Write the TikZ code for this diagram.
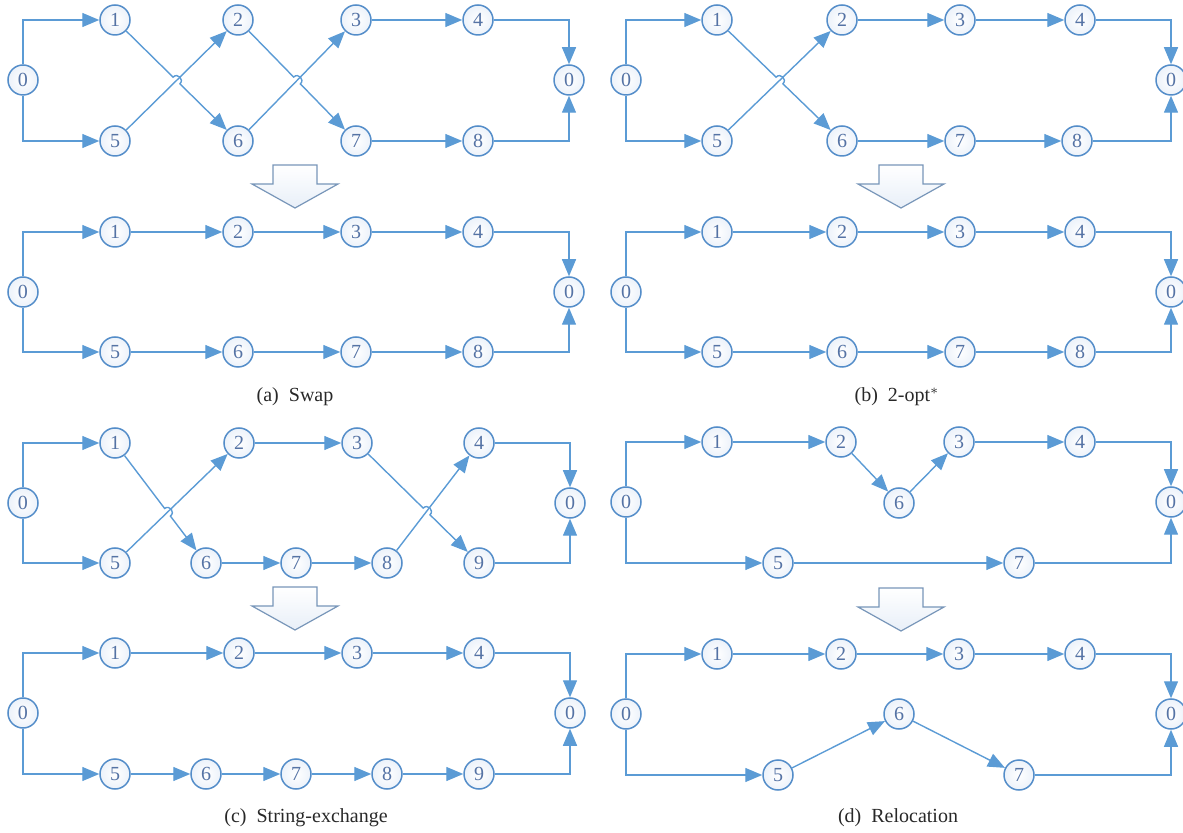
\documentclass[tikz,border=0pt]{standalone}
\usepackage{fontspec}
\setmainfont{Liberation Serif}
\usetikzlibrary{arrows.meta,calc}
\definecolor{lineblue}{RGB}{91,155,213}
\definecolor{nodeblue}{RGB}{84,141,201}
\definecolor{digitblue}{RGB}{85,115,165}
\definecolor{nodefill}{RGB}{236,242,250}
\definecolor{arrowline}{RGB}{120,150,185}
\definecolor{arrowfill}{RGB}{232,239,248}
\definecolor{captext}{RGB}{40,40,40}
\tikzset{
  vtx/.style={circle, draw=nodeblue, line width=0.75pt, minimum size=15pt, inner sep=0pt,
    inner color=white, outer color=nodefill, text=digitblue, font=\fontsize{10}{10}\selectfont},
  edge/.style={draw=lineblue, line width=0.7pt, -{Triangle[length=8.5pt,width=7pt]}},
  bigarrow/.style={draw=arrowline, line width=0.6pt, top color=white, bottom color=arrowfill},
  caption/.style={text=captext, font=\fontsize{10}{12}\selectfont}
}
\newcommand\hopedge[4]{%
  \coordinate (X) at (intersection of #1--#2 and #3--#4);
  \coordinate (P1) at ($(X)!2.4pt!(#1)$);
  \coordinate (P2) at ($(X)!2.4pt!(#2)$);
  \coordinate (C1) at ($(P1)!3.2pt!90:(X)$);
  \coordinate (C2) at ($(P2)!3.2pt!-90:(X)$);
  \draw[edge] (#1) -- (P1) .. controls (C1) and (C2) .. (P2) -- (#2);
}
\newcommand\downarrowshape[2]{%
  \draw[bigarrow] (#1-22,#2) -- (#1+22,#2) -- (#1+22,#2+19) -- (#1+43,#2+19) -- (#1,#2+43)
    -- (#1-43,#2+19) -- (#1-22,#2+19) -- cycle;
}
\begin{document}
\begin{tikzpicture}[x=0.5pt,y=-0.5pt]
\useasboundingbox (0,0) rectangle (1183,833);

% ===== Panel (a) top =====
\node[vtx] (a0) at (23,80) {0};
\node[vtx] (a1) at (115,20) {1};
\node[vtx] (a2) at (238,20) {2};
\node[vtx] (a3) at (356,20) {3};
\node[vtx] (a4) at (478,20) {4};
\node[vtx] (a0r) at (569,80) {0};
\node[vtx] (a5) at (115,141) {5};
\node[vtx] (a6) at (238,141) {6};
\node[vtx] (a7) at (356,141) {7};
\node[vtx] (a8) at (478,141) {8};
\draw[edge] (a0) |- (a1);
\draw[edge] (a0) |- (a5);
\draw[edge] (a5) -- (a2);
\hopedge{a1}{a6}{a5}{a2}
\draw[edge] (a6) -- (a3);
\hopedge{a2}{a7}{a6}{a3}
\draw[edge] (a3) -- (a4);
\draw[edge] (a7) -- (a8);
\draw[edge] (a4) -| (a0r);
\draw[edge] (a8) -| (a0r);
\downarrowshape{295}{165}

% ===== Panel (a) bottom =====
\node[vtx] (aa0) at (23,292) {0};
\node[vtx] (aa1) at (115,232) {1};
\node[vtx] (aa2) at (238,232) {2};
\node[vtx] (aa3) at (356,232) {3};
\node[vtx] (aa4) at (478,232) {4};
\node[vtx] (aa0r) at (569,292) {0};
\node[vtx] (aa5) at (115,352) {5};
\node[vtx] (aa6) at (238,352) {6};
\node[vtx] (aa7) at (356,352) {7};
\node[vtx] (aa8) at (478,352) {8};
\draw[edge] (aa0) |- (aa1);
\draw[edge] (aa1) -- (aa2);
\draw[edge] (aa2) -- (aa3);
\draw[edge] (aa3) -- (aa4);
\draw[edge] (aa4) -| (aa0r);
\draw[edge] (aa0) |- (aa5);
\draw[edge] (aa5) -- (aa6);
\draw[edge] (aa6) -- (aa7);
\draw[edge] (aa7) -- (aa8);
\draw[edge] (aa8) -| (aa0r);
\node[caption] (capa) at (295,397) {(a)\ \ Swap};

% ===== Panel (b) top =====
\node[vtx] (b0) at (626,80) {0};
\node[vtx] (b1) at (717,20) {1};
\node[vtx] (b2) at (842,20) {2};
\node[vtx] (b3) at (960,20) {3};
\node[vtx] (b4) at (1080,20) {4};
\node[vtx] (b0r) at (1171,80) {0};
\node[vtx] (b5) at (717,141) {5};
\node[vtx] (b6) at (842,141) {6};
\node[vtx] (b7) at (960,141) {7};
\node[vtx] (b8) at (1077,141) {8};
\draw[edge] (b0) |- (b1);
\draw[edge] (b0) |- (b5);
\draw[edge] (b5) -- (b2);
\hopedge{b1}{b6}{b5}{b2}
\draw[edge] (b2) -- (b3);
\draw[edge] (b3) -- (b4);
\draw[edge] (b6) -- (b7);
\draw[edge] (b7) -- (b8);
\draw[edge] (b4) -| (b0r);
\draw[edge] (b8) -| (b0r);
\downarrowshape{901}{165}

% ===== Panel (b) bottom =====
\node[vtx] (bb0) at (626,292) {0};
\node[vtx] (bb1) at (717,232) {1};
\node[vtx] (bb2) at (842,232) {2};
\node[vtx] (bb3) at (960,232) {3};
\node[vtx] (bb4) at (1080,232) {4};
\node[vtx] (bb0r) at (1171,292) {0};
\node[vtx] (bb5) at (717,352) {5};
\node[vtx] (bb6) at (842,352) {6};
\node[vtx] (bb7) at (960,352) {7};
\node[vtx] (bb8) at (1080,352) {8};
\draw[edge] (bb0) |- (bb1);
\draw[edge] (bb1) -- (bb2);
\draw[edge] (bb2) -- (bb3);
\draw[edge] (bb3) -- (bb4);
\draw[edge] (bb4) -| (bb0r);
\draw[edge] (bb0) |- (bb5);
\draw[edge] (bb5) -- (bb6);
\draw[edge] (bb6) -- (bb7);
\draw[edge] (bb7) -- (bb8);
\draw[edge] (bb8) -| (bb0r);
\node[caption] (capb) at (897,397) {(b)\ \ 2-opt$^{*}$};

% ===== Panel (c) top =====
\node[vtx] (c0) at (23,503) {0};
\node[vtx] (c1) at (115,443) {1};
\node[vtx] (c2) at (239,443) {2};
\node[vtx] (c3) at (357,443) {3};
\node[vtx] (c4) at (479,443) {4};
\node[vtx] (c0r) at (570,503) {0};
\node[vtx] (c5) at (115,563) {5};
\node[vtx] (c6) at (206,563) {6};
\node[vtx] (c7) at (296,563) {7};
\node[vtx] (c8) at (387,563) {8};
\node[vtx] (c9) at (479,563) {9};
\draw[edge] (c0) |- (c1);
\draw[edge] (c0) |- (c5);
\draw[edge] (c5) -- (c2);
\hopedge{c1}{c6}{c5}{c2}
\draw[edge] (c2) -- (c3);
\draw[edge] (c8) -- (c4);
\hopedge{c3}{c9}{c8}{c4}
\draw[edge] (c6) -- (c7);
\draw[edge] (c7) -- (c8);
\draw[edge] (c4) -| (c0r);
\draw[edge] (c9) -| (c0r);
\downarrowshape{295}{587}

% ===== Panel (c) bottom =====
\node[vtx] (cc0) at (23,713) {0};
\node[vtx] (cc1) at (115,653) {1};
\node[vtx] (cc2) at (239,653) {2};
\node[vtx] (cc3) at (357,653) {3};
\node[vtx] (cc4) at (479,653) {4};
\node[vtx] (cc0r) at (570,713) {0};
\node[vtx] (cc5) at (115,774) {5};
\node[vtx] (cc6) at (206,774) {6};
\node[vtx] (cc7) at (296,774) {7};
\node[vtx] (cc8) at (387,774) {8};
\node[vtx] (cc9) at (479,774) {9};
\draw[edge] (cc0) |- (cc1);
\draw[edge] (cc1) -- (cc2);
\draw[edge] (cc2) -- (cc3);
\draw[edge] (cc3) -- (cc4);
\draw[edge] (cc4) -| (cc0r);
\draw[edge] (cc0) |- (cc5);
\draw[edge] (cc5) -- (cc6);
\draw[edge] (cc6) -- (cc7);
\draw[edge] (cc7) -- (cc8);
\draw[edge] (cc8) -- (cc9);
\draw[edge] (cc9) -| (cc0r);
\node[caption] (capc) at (306,818) {(c)\ \ String-exchange};

% ===== Panel (d) top =====
\node[vtx] (d0) at (626,502) {0};
\node[vtx] (d1) at (717,442) {1};
\node[vtx] (d2) at (841,442) {2};
\node[vtx] (d3) at (959,442) {3};
\node[vtx] (d4) at (1080,442) {4};
\node[vtx] (d0r) at (1171,502) {0};
\node[vtx] (d6) at (899,503) {6};
\node[vtx] (d5) at (778,563) {5};
\node[vtx] (d7) at (1019,563) {7};
\draw[edge] (d0) |- (d1);
\draw[edge] (d1) -- (d2);
\draw[edge] (d2) -- (d6);
\draw[edge] (d6) -- (d3);
\draw[edge] (d3) -- (d4);
\draw[edge] (d4) -| (d0r);
\draw[edge] (d0) |- (d5);
\draw[edge] (d5) -- (d7);
\draw[edge] (d7) -| (d0r);
\downarrowshape{901}{588}

% ===== Panel (d) bottom =====
\node[vtx] (dd0) at (626,714) {0};
\node[vtx] (dd1) at (717,654) {1};
\node[vtx] (dd2) at (841,654) {2};
\node[vtx] (dd3) at (959,654) {3};
\node[vtx] (dd4) at (1080,654) {4};
\node[vtx] (dd0r) at (1171,714) {0};
\node[vtx] (dd6) at (899,714) {6};
\node[vtx] (dd5) at (778,775) {5};
\node[vtx] (dd7) at (1019,775) {7};
\draw[edge] (dd0) |- (dd1);
\draw[edge] (dd1) -- (dd2);
\draw[edge] (dd2) -- (dd3);
\draw[edge] (dd3) -- (dd4);
\draw[edge] (dd4) -| (dd0r);
\draw[edge] (dd0) |- (dd5);
\draw[edge] (dd5) -- (dd6);
\draw[edge] (dd6) -- (dd7);
\draw[edge] (dd7) -| (dd0r);
\node[caption] (capd) at (898,818) {(d)\ \ Relocation};
\end{tikzpicture}
\end{document}
